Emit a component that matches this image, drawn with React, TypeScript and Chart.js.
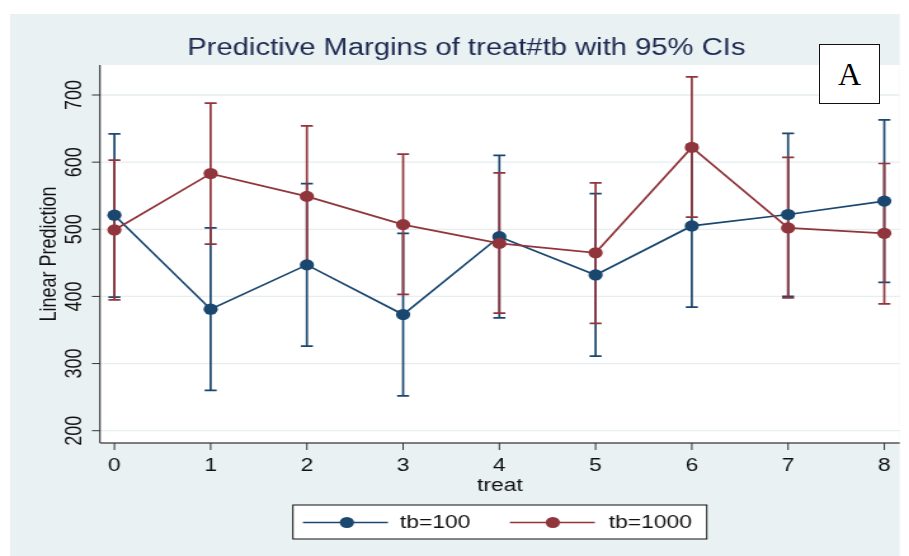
import React, { useEffect, useRef } from "react";
import { Chart, registerables } from "chart.js";

Chart.register(...registerables);

// ---- data -------------------------------------------------------------
const treat = [0, 1, 2, 3, 4, 5, 6, 7, 8];
const xTickLabels = ["0", "1", "2", "3", "4", "5", "6", "7", "8"];
const yTicks = [200, 300, 400, 500, 600, 700];

const seriesNames = ["tb=100", "tb=1000"];

// predictive margins, tb=100
const margin100 = [521, 381, 447, 373, 489, 432, 505, 522, 542];
const lower100 = [399, 260, 326, 252, 368, 311, 384, 400, 421];
const upper100 = [642, 502, 568, 494, 610, 553, 626, 643, 663];

// predictive margins, tb=1000
const margin1000 = [499, 583, 549, 507, 479, 465, 622, 502, 494];
const lower1000 = [395, 478, 444, 403, 375, 360, 518, 398, 389];
const upper1000 = [603, 688, 654, 612, 584, 569, 727, 607, 598];

// ---- look -------------------------------------------------------------
const BLUE = "#1a476f";
const RED = "#90353b";
const BG = "#e9f1f3";
const GRID = "#e6eef0";
const FONT = "'Liberation Sans', Arial, Helvetica, sans-serif";
const LINE_W = 1.7;
const DOT_R = 5.6;

const VIEW_W = 909;
const VIEW_H = 556;
// the graph is rendered on a narrower canvas and shown stretched sideways
const SX = 1.27;
const CANVAS_W = Math.round(VIEW_W / SX);
const px = (v: number) => v / SX; // horizontal page px -> canvas px

const ciSeries = [
  { lo: lower100, hi: upper100, color: BLUE },
  { lo: lower1000, hi: upper1000, color: RED },
];

const stataPlugin = {
  id: "stataFrame",
  beforeDraw(chart: any) {
    const { ctx, chartArea: a, width, height } = chart;
    const ys = chart.scales.y;
    ctx.save();
    ctx.fillStyle = "#ffffff";
    ctx.fillRect(0, 0, width, height);
    ctx.fillStyle = BG;
    ctx.fillRect(px(10), 14, px(890), height - 14);
    ctx.fillStyle = "#ffffff";
    ctx.fillRect(a.left, a.top, a.right - a.left, a.bottom - a.top);
    ctx.strokeStyle = GRID;
    ctx.lineWidth = 1.3;
    for (const v of yTicks) {
      const y = ys.getPixelForValue(v);
      ctx.beginPath();
      ctx.moveTo(a.left, y);
      ctx.lineTo(a.right, y);
      ctx.stroke();
    }
    ctx.restore();
  },
  beforeDatasetsDraw(chart: any) {
    const { ctx } = chart;
    const xs = chart.scales.x;
    const ys = chart.scales.y;
    const cap = px(6);
    ctx.save();
    ctx.lineWidth = LINE_W;
    for (const s of ciSeries) {
      ctx.strokeStyle = s.color;
      treat.forEach((t, i) => {
        const x = xs.getPixelForValue(t);
        const y0 = ys.getPixelForValue(s.lo[i]);
        const y1 = ys.getPixelForValue(s.hi[i]);
        ctx.beginPath();
        ctx.moveTo(x, y0);
        ctx.lineTo(x, y1);
        ctx.moveTo(x - cap, y0);
        ctx.lineTo(x + cap, y0);
        ctx.moveTo(x - cap, y1);
        ctx.lineTo(x + cap, y1);
        ctx.stroke();
      });
    }
    ctx.restore();
  },
  afterDraw(chart: any) {
    const { ctx, chartArea: a } = chart;
    const xs = chart.scales.x;
    const ys = chart.scales.y;
    ctx.save();

    // axes
    ctx.strokeStyle = "#111";
    ctx.lineWidth = 1;
    ctx.beginPath();
    ctx.moveTo(a.left, a.top);
    ctx.lineTo(a.left, a.bottom);
    ctx.stroke();
    ctx.strokeStyle = "#555";
    ctx.lineWidth = 1.4;
    ctx.beginPath();
    ctx.moveTo(a.left, a.bottom);
    ctx.lineTo(a.right, a.bottom);
    ctx.stroke();

    // y ticks and rotated labels
    ctx.strokeStyle = "#333";
    ctx.lineWidth = 1;
    ctx.fillStyle = "#111";
    ctx.font = `18px ${FONT}`;
    ctx.textAlign = "center";
    ctx.textBaseline = "alphabetic";
    for (const v of yTicks) {
      const y = ys.getPixelForValue(v);
      ctx.beginPath();
      ctx.moveTo(a.left - px(8), y);
      ctx.lineTo(a.left, y);
      ctx.stroke();
      ctx.save();
      ctx.translate(px(81.5), y);
      ctx.rotate(-Math.PI / 2);
      ctx.fillText(String(v), 0, 0);
      ctx.restore();
    }

    // x ticks and labels
    treat.forEach((t, i) => {
      const x = xs.getPixelForValue(t);
      ctx.beginPath();
      ctx.moveTo(x, a.bottom);
      ctx.lineTo(x, a.bottom + 7);
      ctx.stroke();
      ctx.fillText(xTickLabels[i], x, 471);
    });

    // axis titles
    ctx.fillText("treat", (a.left + a.right) / 2, 491);
    ctx.save();
    ctx.translate(px(56.5), (a.top + a.bottom) / 2);
    ctx.rotate(-Math.PI / 2);
    ctx.fillText("Linear Prediction", 0, 0);
    ctx.restore();

    // title
    ctx.fillStyle = "#1c2a50";
    ctx.font = `23px ${FONT}`;
    ctx.fillText("Predictive Margins of treat#tb with 95% CIs", px(466.5), 54.5);

    // legend
    const ly = 522.5;
    ctx.fillStyle = "#ffffff";
    ctx.fillRect(px(293), 505, px(414), 34);
    ctx.strokeStyle = "#111";
    ctx.lineWidth = 1;
    ctx.strokeRect(px(293), 505, px(414), 34);
    const keys = [
      { x0: 303, x1: 388, m: 347, tx: 400, color: BLUE, label: seriesNames[0] },
      { x0: 510, x1: 595, m: 553, tx: 609, color: RED, label: seriesNames[1] },
    ];
    ctx.font = `18px ${FONT}`;
    ctx.textAlign = "left";
    ctx.textBaseline = "middle";
    for (const k of keys) {
      ctx.strokeStyle = k.color;
      ctx.lineWidth = LINE_W;
      ctx.beginPath();
      ctx.moveTo(px(k.x0), ly);
      ctx.lineTo(px(k.x1), ly);
      ctx.stroke();
      ctx.fillStyle = k.color;
      ctx.beginPath();
      ctx.arc(px(k.m), ly, DOT_R, 0, Math.PI * 2);
      ctx.fill();
      ctx.fillStyle = "#111";
      ctx.fillText(k.label, px(k.tx), ly + 1);
    }
    ctx.restore();
  },
};

export default function App() {
  const canvasRef = useRef<HTMLCanvasElement | null>(null);

  useEffect(() => {
    const canvas = canvasRef.current;
    if (!canvas) return;
    const mk = (vals: number[]) => treat.map((t, i) => ({ x: t, y: vals[i] }));
    const chart = new Chart(canvas, {
      type: "line",
      data: {
        datasets: [
          {
            label: seriesNames[0],
            data: mk(margin100),
            borderColor: BLUE,
            backgroundColor: BLUE,
            borderWidth: LINE_W,
            pointRadius: DOT_R,
            pointBorderWidth: 0,
            pointBackgroundColor: BLUE,
            tension: 0,
            order: 2,
          },
          {
            label: seriesNames[1],
            data: mk(margin1000),
            borderColor: RED,
            backgroundColor: RED,
            borderWidth: LINE_W,
            pointRadius: DOT_R,
            pointBorderWidth: 0,
            pointBackgroundColor: RED,
            tension: 0,
            order: 1,
          },
        ],
      },
      options: {
        responsive: false,
        animation: false,
        events: [],
        layout: {
          autoPadding: false,
          padding: { left: px(100), right: CANVAS_W - px(900), top: 65, bottom: VIEW_H - 443 },
        },
        scales: {
          x: { type: "linear", min: -0.15, max: 8.16, display: false },
          y: { type: "linear", min: 181.7, max: 744.7, display: false },
        },
        plugins: {
          legend: { display: false },
          tooltip: { enabled: false },
          title: { display: false },
        },
      },
      plugins: [stataPlugin],
    });
    return () => chart.destroy();
  }, []);

  return (
    <div style={{ position: "absolute", left: 0, top: 0, width: VIEW_W, height: VIEW_H, background: "#fff" }}>
      <canvas
        ref={canvasRef}
        width={CANVAS_W}
        height={VIEW_H}
        style={{ width: VIEW_W, height: VIEW_H, display: "block" }}
      />
      <div
        style={{
          position: "absolute",
          left: 819,
          top: 44,
          width: 61,
          height: 60,
          boxSizing: "border-box",
          border: "1.5px solid #111",
          background: "#fff",
          display: "flex",
          alignItems: "center",
          justifyContent: "center",
          font: "32px 'Liberation Serif', 'Times New Roman', serif",
          color: "#000",
        }}
      >
        A
      </div>
    </div>
  );
}
